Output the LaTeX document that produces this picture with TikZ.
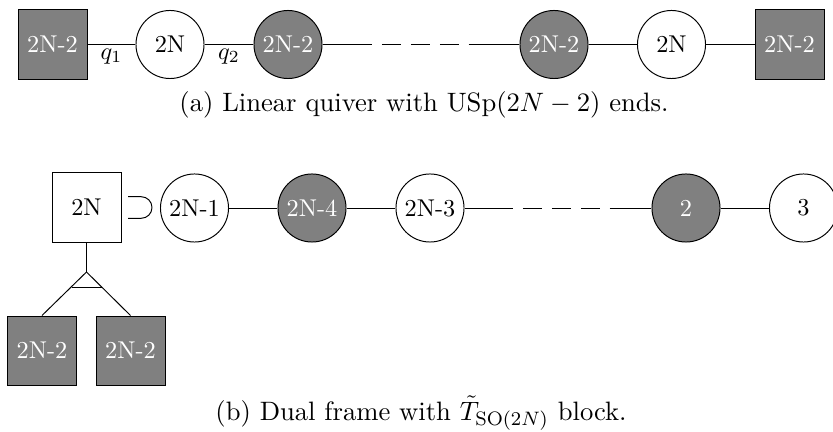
\documentclass[tikz,border=0pt]{standalone}
\begin{document}
\begin{tikzpicture}[x=0.4115pt,y=-0.4115pt,
  captext/.style={font=\fontsize{10.95}{13.6}\selectfont},
  wcirc/.style={circle,draw,fill=white,minimum size=28pt,inner sep=0pt},
  gcirc/.style={circle,draw,fill=gray,text=white,minimum size=28pt,inner sep=0pt},
  wsq/.style={rectangle,draw,fill=white,minimum size=28.4pt,inner sep=0pt},
  gsq/.style={rectangle,draw,fill=gray,text=white,minimum size=28.4pt,inner sep=0pt},
  dashpart/.style={dash pattern=on 7.8pt off 4.1pt,dash phase=7.8pt},
  lab/.style={inner sep=1.5pt}]
\useasboundingbox (0,0) rectangle (833,432);
% (a)
\node[gsq] (sqL) at (52.5,44.5) {2N-2};
\node[wcirc] (c1) at (170,44.5) {2N};
\node[gcirc] (c2) at (288,44.5) {2N-2};
\node[gcirc] (c3) at (554,44.5) {2N-2};
\node[wcirc] (c4) at (671.5,44.5) {2N};
\node[gsq] (sqR) at (789.5,44.5) {2N-2};
\coordinate (a1) at (372,44.5);
\coordinate (a2) at (470,44.5);
\draw (sqL) -- node[lab,below] (q1) {$q_1$} (c1);
\draw (c1) -- node[lab,below] (q2) {$q_2$} (c2);
\draw (c2) -- (a1);
\draw[dashpart] (a1) -- (a2);
\draw (a2) -- (c3);
\draw (c3) -- (c4);
\draw (c4) -- (sqR);
\node[captext] (capa) at (424,105) {(a) Linear quiver with USp$(2N-2)$ ends.};
% (b)
\node[wsq] (s2N) at (86.5,207.5) {2N};
\node[wcirc] (d1) at (194.5,208) {2N-1};
\node[gcirc] (d2) at (312,208) {2N-4};
\node[wcirc] (d3) at (430,208) {2N-3};
\node[gcirc] (d4) at (686,208) {2};
\node[wcirc] (d5) at (803.5,208) {3};
\coordinate (b1) at (513,208);
\coordinate (b2) at (612,208);
\draw (d1) -- (d2);
\draw (d2) -- (d3);
\draw (d3) -- (b1);
\draw[dashpart] (b1) -- (b2);
\draw (b2) -- (d4);
\draw (d4) -- (d5);
\draw (128,196.7) -- (141.2,196.7) arc[start angle=-90,end angle=90,radius=10.8] -- (128,218.3);
\node[gsq] (bl) at (42,350.5) {2N-2};
\node[gsq] (br) at (130.5,350.5) {2N-2};
\coordinate (apex) at (86.5,272);
\draw (s2N) -- (apex);
\draw (apex) -- (bl.north);
\draw (apex) -- (br.north);
\draw (71.5,287) -- (101.5,287);
\node[captext] (capb) at (421,413) {(b) Dual frame with $\tilde{T}_{\mathrm{SO}(2N)}$ block.};
\end{tikzpicture}
\end{document}
